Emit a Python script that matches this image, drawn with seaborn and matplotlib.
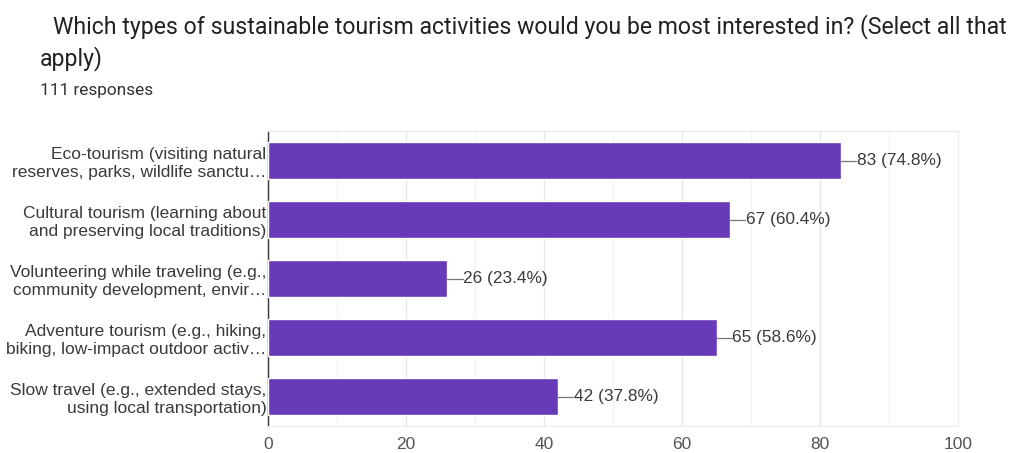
import matplotlib
matplotlib.use("Agg")
import matplotlib.pyplot as plt
import seaborn as sns
import pandas as pd
from matplotlib.ticker import MultipleLocator

categories = [
    "Eco-tourism (visiting natural\nreserves, parks, wildlife sanctu…",
    "Cultural tourism (learning about\nand preserving local traditions)",
    "Volunteering while traveling (e.g.,\ncommunity development, envir…",
    "Adventure tourism (e.g., hiking,\nbiking, low-impact outdoor activ…",
    "Slow travel (e.g., extended stays,\nusing local transportation)",
]
counts = [83, 67, 26, 65, 42]
total_responses = 111
x_ticks = [0, 20, 40, 60, 80, 100]

title = "Which types of sustainable tourism activities would you be most interested in? (Select all that\napply)"
subtitle = f"{total_responses} responses"

df = pd.DataFrame({"activity": categories, "count": counts})

sns.set_theme(style="white")
plt.rcParams["font.family"] = ["Roboto", "DejaVu Sans"]
label_font = ["Liberation Sans", "DejaVu Sans"]

fig = plt.figure(figsize=(10.09, 4.53), dpi=100)
ax = fig.add_axes([268 / 1009, 1 - 426 / 453, 690 / 1009, 295 / 453])

bar_color = "#673ab7"
sns.barplot(data=df, x="count", y="activity", color=bar_color, width=0.63,
            saturation=1, ax=ax, zorder=3)

ax.set_xlim(0, 100)
ax.set_ylim(4.5, -0.5)
ax.set_xticks(x_ticks)
ax.xaxis.set_minor_locator(MultipleLocator(10))
ax.grid(axis="x", which="major", color="#e6e6e6", linewidth=0.9, zorder=0)
ax.grid(axis="x", which="minor", color="#f2f2f2", linewidth=0.8, zorder=0)
ax.set_xlabel("")
ax.set_ylabel("")

for side in ["top", "right", "bottom"]:
    ax.spines[side].set_color("#ececec")
    ax.spines[side].set_linewidth(0.9)
ax.spines["left"].set_color("#333333")
ax.spines["left"].set_linewidth(1.0)

ax.tick_params(axis="x", length=0, labelsize=12.5, labelcolor="#555555", pad=8)
ax.tick_params(axis="y", length=0, labelsize=12.5, labelcolor="#3a3a3a", pad=1.2)
for lbl in ax.get_xticklabels():
    lbl.set_family(label_font)
for lbl in ax.get_yticklabels():
    lbl.set_family(label_font)
    lbl.set_horizontalalignment("right")
    lbl.set_linespacing(1.22)

for i, c in enumerate(counts):
    pct = c / total_responses * 100
    ax.plot([c, c + 2.2], [i, i], color="#777777", linewidth=0.9, zorder=4)
    ax.text(c + 2.3, i, f"{c} ({pct:.1f}%)", va="center", ha="left",
            fontsize=12.4, color="#3a3a3a", family=label_font, zorder=4)

fig.text(53 / 1009, 1 - 14 / 453, title.split("\n")[0], ha="left", va="top",
         fontsize=16.6, color="#212121")
fig.text(40 / 1009, 1 - 46 / 453, title.split("\n")[1], ha="left", va="top",
         fontsize=16.6, color="#212121")
fig.text(40 / 1009, 1 - 83 / 453, subtitle, ha="left", va="top", fontsize=12.4,
         color="#333333")

fig.savefig("out.png", dpi=100, facecolor="white")
